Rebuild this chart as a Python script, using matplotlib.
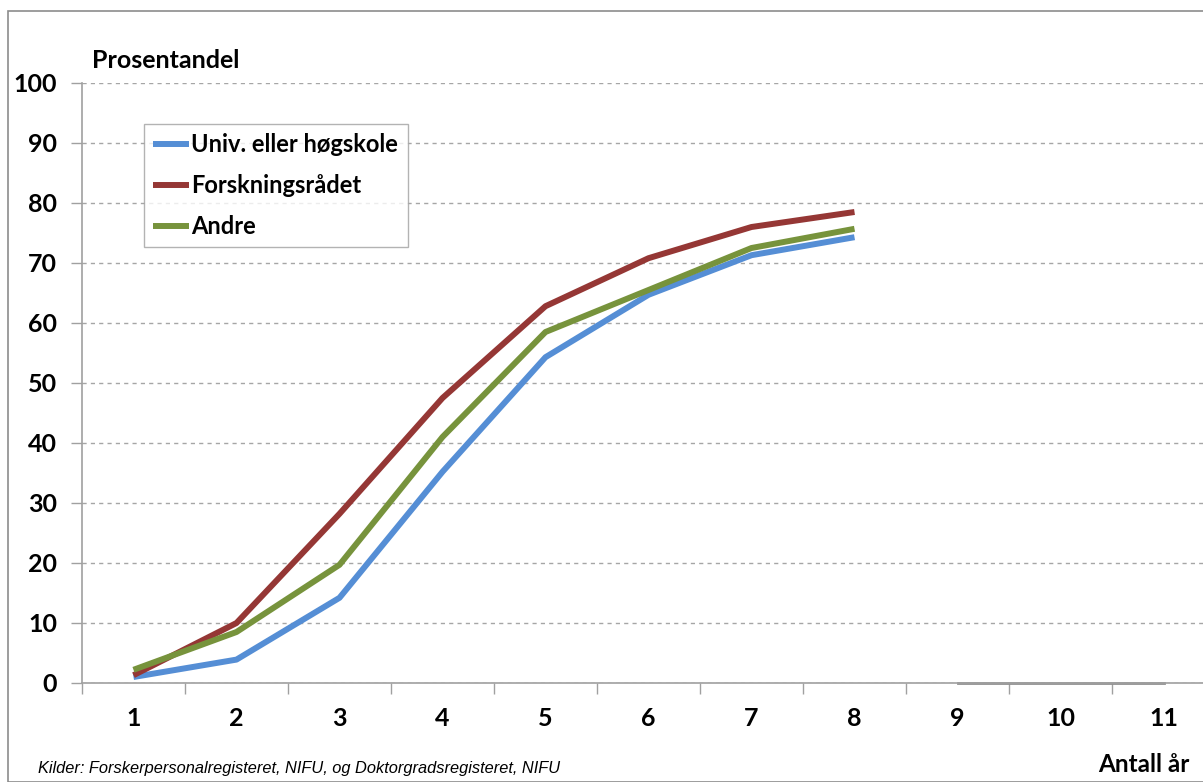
import matplotlib
matplotlib.use("Agg")
import matplotlib.pyplot as plt
from matplotlib.patches import Rectangle

years = [1, 2, 3, 4, 5, 6, 7, 8]
univ = [1.0, 3.9, 14.2, 35.2, 54.3, 64.7, 71.3, 74.3]
forsk = [1.3, 10.0, 28.2, 47.5, 62.8, 70.8, 76.0, 78.5]
andre = [2.2, 8.5, 19.7, 41.0, 58.5, 65.5, 72.5, 75.7]
empty_x = [9, 10, 11]
empty_y = [0, 0, 0]
categories = [str(i) for i in range(1, 12)]
yticks = list(range(0, 101, 10))

W, H = 1203, 782
fig = plt.figure(figsize=(W / 100, H / 100), dpi=100)
fig.patch.set_facecolor("white")

# outer chart border
fig.patches.append(Rectangle((8 / W, 0), 1.2, (H - 11) / H, transform=fig.transFigure,
                             fill=False, edgecolor="#8c8c8c", linewidth=1.2))

left, right = 82 / W, 1215 / W
bottom, top = 1 - 683 / H, 1 - 83 / H
ax = fig.add_axes([left, bottom, right - left, top - bottom])
ax.set_xlim(0.5, 11.5)
ax.set_ylim(0, 100)

for s in ["top", "right"]:
    ax.spines[s].set_visible(False)
for s in ["left", "bottom"]:
    ax.spines[s].set_color("#a0a0a0")
    ax.spines[s].set_linewidth(1.2)

ax.set_yticks(yticks)
ax.yaxis.grid(True, linestyle=(0, (3, 3)), color="#a6a6a6", linewidth=1.0)
ax.set_axisbelow(True)
ax.tick_params(axis="y", length=8, color="#a0a0a0", width=1.0, pad=10)
ax.set_yticklabels([str(v) for v in yticks], fontsize=18, fontweight="bold", family="Lato")

# category ticks between categories, labels at centers
ax.set_xticks([i + 0.5 for i in range(0, 11)])
ax.set_xticklabels([])
ax.tick_params(axis="x", length=8, color="#a0a0a0", width=1.0)
for i, c in enumerate(categories):
    ax.text(i + 1, -6.0, c, ha="center", va="center", fontsize=18, fontweight="bold",
            family="Lato", transform=ax.transData, clip_on=False)

ax.plot(empty_x, empty_y, color="#909090", linewidth=2.0, zorder=2.5, clip_on=False)
ax.plot(years, univ, color="#558ED5", linewidth=4.3, label="Univ. eller høgskole", solid_capstyle="butt")
ax.plot(years, forsk, color="#953735", linewidth=4.3, label="Forskningsrådet", solid_capstyle="butt")
ax.plot(years, andre, color="#77933C", linewidth=4.3, label="Andre", solid_capstyle="butt")

leg = ax.legend(loc="upper left", bbox_to_anchor=((144 - 82) / (1215 - 82), (683 - 124) / 600),
                frameon=True, fancybox=False, edgecolor="#a0a0a0", handlelength=1.5,
                handletextpad=0.1, borderpad=0.4, labelspacing=0.75, borderaxespad=0,
                prop={"family": "Lato", "weight": "bold", "size": 17})
leg.get_frame().set_linewidth(1.0)

fig.text(92 / W, 1 - 60 / H, "Prosentandel", fontsize=18, fontweight="bold", family="Lato",
         ha="left", va="center")
fig.text(1190 / W, 1 - 765 / H, "Antall år", fontsize=17.5, fontweight="bold", family="Lato",
         ha="right", va="center")
fig.text(38 / W, 1 - 768 / H, "Kilder: Forskerpersonalregisteret, NIFU, og Doktorgradsregisteret, NIFU",
         fontsize=11.8, style="italic", family="Liberation Sans", ha="left", va="center")

fig.savefig("out.png", dpi=100)
